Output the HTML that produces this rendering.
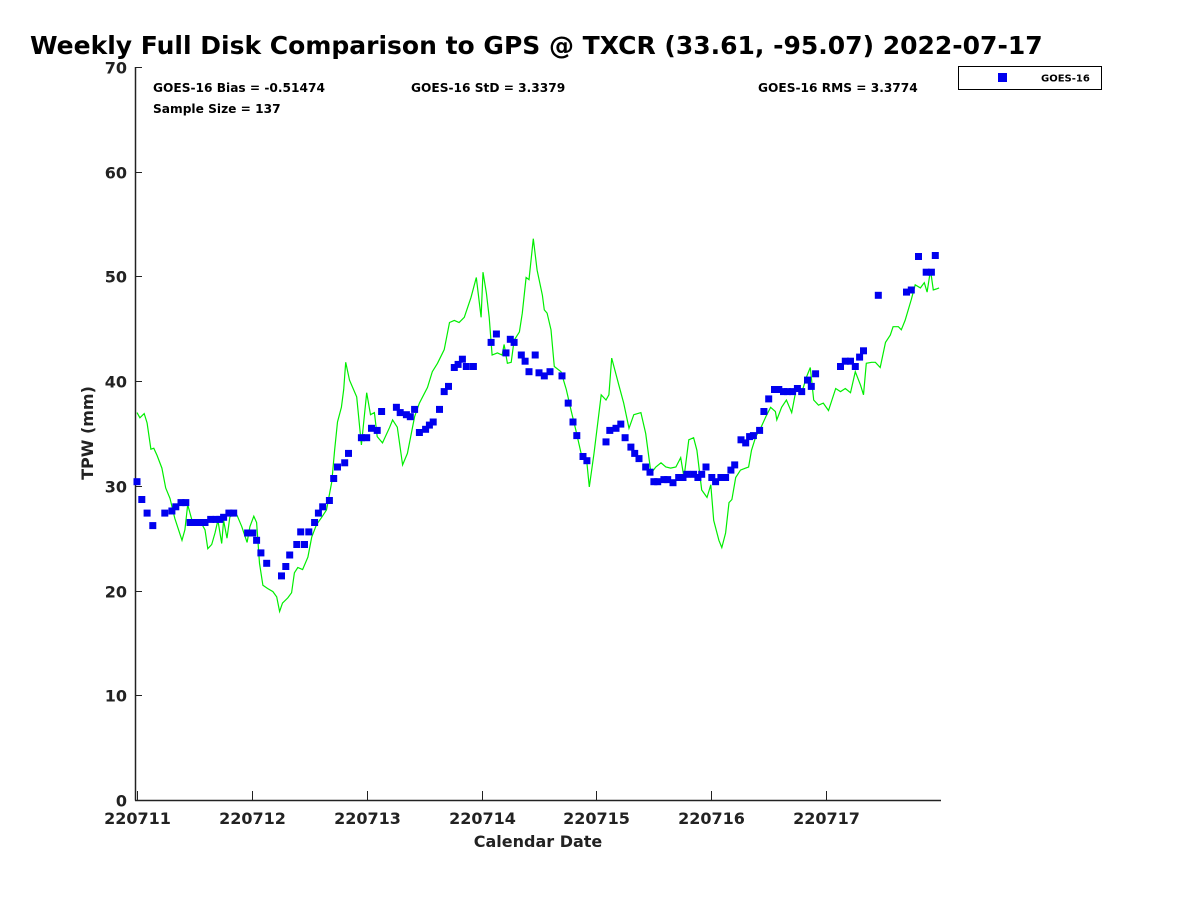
<!DOCTYPE html>
<html><head><meta charset="utf-8"><style>
body{margin:0;background:#fff;}
svg{display:block;font-family:"DejaVu Sans","Liberation Sans",sans-serif;font-weight:bold;}
</style></head><body>
<svg id="chart" width="1200" height="900" viewBox="0 0 1200 900">
<rect x="0" y="0" width="1200" height="900" fill="#fff"/>
<text x="30" y="54" font-size="25" fill="#000">Weekly Full Disk Comparison to GPS @ TXCR (33.61, -95.07) 2022-07-17</text>
<text x="153" y="92" font-size="12.2" fill="#000">GOES-16 Bias = -0.51474</text>
<text x="153" y="113" font-size="12.2" fill="#000">Sample Size = 137</text>
<text x="411" y="92" font-size="12.2" fill="#000">GOES-16 StD = 3.3379</text>
<text x="758" y="92" font-size="12.2" fill="#000">GOES-16 RMS = 3.3774</text>
<g>
<rect x="958.5" y="66.5" width="143" height="23" fill="#fff" stroke="#000" stroke-width="1"/>
<rect x="998" y="73" width="9" height="9" fill="#0000ee"/>
<text x="1041" y="81.5" font-size="10" fill="#000">GOES-16</text>
</g>
<g id="axes"></g>
<g id="series"></g>
<text x="0" y="0" transform="translate(93,433) rotate(-90)" text-anchor="middle" font-size="16" fill="#222">TPW (mm)</text>
<text x="538" y="847" text-anchor="middle" font-size="16" fill="#222">Calendar Date</text>
</svg>
<script>
const yTicks = [0,10,20,30,40,50,60,70];
const xTickLabels = ["220711","220712","220713","220714","220715","220716","220717"];
const xTickHours = [0,24,48,72,96,120,144];
const gpsHours = [0,0.6,1.5,2.1,2.9,3.5,4.2,5.2,6.0,6.9,7.9,9.4,10.0,10.6,11.5,12.5,13.6,14.2,14.8,15.6,16.3,16.9,17.7,18.1,18.8,19.4,20.0,20.9,21.9,23.0,23.6,24.4,25.0,25.6,26.3,27.3,28.4,29.2,29.8,30.4,31.5,32.3,32.9,33.6,34.6,35.7,36.5,37.5,38.6,39.6,40.7,41.3,41.9,42.7,43.2,43.6,44.4,45.9,46.9,48.0,48.8,49.6,50.2,51.3,52.8,53.4,54.4,55.5,56.5,58.0,59.0,60.7,61.7,62.8,64.2,65.3,66.3,67.3,68.4,69.8,70.9,71.9,72.3,73.0,73.6,74.2,75.3,76.3,76.7,77.4,78.2,78.8,79.9,80.5,81.3,81.9,82.8,83.6,84.7,85.1,85.7,86.5,87.2,88.6,89.7,90.7,91.7,92.8,94.0,94.5,95.5,97.0,98.0,98.6,99.2,100.7,101.7,102.8,103.8,105.3,106.3,107.4,108.4,109.5,110.5,111.5,112.6,113.6,114.3,115.3,116.3,117.0,118.0,119.1,119.9,120.5,121.6,122.2,123.0,123.7,124.3,125.1,126.1,127.2,127.8,128.4,129.3,130.3,131.4,132.4,133.4,133.7,134.7,135.7,136.8,137.8,138.9,139.9,140.7,141.4,142.4,143.4,144.5,146.0,147.0,148.0,149.1,150.1,151.2,151.8,152.4,153.5,154.3,155.3,156.4,157.4,158.0,159.1,159.7,160.5,161.8,162.6,163.7,164.5,165.1,165.8,166.4,167.0,167.6];
const gpsTpw = [37.0,36.5,36.9,36.0,33.5,33.6,32.9,31.7,29.8,28.8,26.9,24.8,25.8,28.2,26.7,26.4,26.3,25.8,24.0,24.4,25.5,26.7,24.5,26.7,25.0,27.0,27.5,27.2,26.1,24.6,26.1,27.1,26.5,22.6,20.5,20.2,19.9,19.4,18.0,18.8,19.3,19.8,21.7,22.2,22.0,23.2,25.1,26.3,27.0,27.7,30.4,33.4,36.1,37.5,39.2,41.8,40.1,38.5,33.9,38.9,36.8,37.0,34.7,34.1,35.6,36.3,35.6,32.0,33.1,36.6,37.9,39.4,40.9,41.7,43.0,45.6,45.8,45.6,46.1,48.0,49.9,46.1,50.4,48.4,46.1,42.5,42.7,42.5,43.5,41.7,41.8,43.9,44.7,46.5,49.9,49.7,53.6,50.6,48.2,46.8,46.5,44.9,41.4,40.9,39.2,37.2,35.3,33.1,32.2,29.9,33.1,38.7,38.2,38.7,42.2,39.6,37.9,35.5,36.8,37.0,35.0,31.2,31.8,32.2,31.8,31.7,31.8,32.7,30.8,34.4,34.6,33.4,29.6,28.9,30.1,26.7,24.8,24.1,25.5,28.4,28.7,30.8,31.5,31.7,31.8,33.4,34.7,35.5,36.6,37.5,37.1,36.3,37.5,38.2,37.0,39.4,38.9,40.4,41.3,38.2,37.7,37.9,37.2,39.3,39.0,39.3,38.9,40.9,39.6,38.7,41.7,41.8,41.8,41.3,43.7,44.4,45.2,45.2,44.9,45.8,47.8,49.2,48.9,49.4,48.5,50.6,48.7,48.8,48.9];
const goesHours = [0,1.0,2.1,3.3,5.8,7.3,8.1,9.2,10.2,11.1,12.1,13.1,14.2,15.4,16.5,17.3,18.1,19.2,20.2,23.1,24.2,25.0,25.9,27.1,30.2,31.1,31.9,33.4,34.2,35.0,35.9,37.1,37.9,38.8,40.2,41.1,41.9,43.4,44.2,46.9,48.0,49.0,50.2,51.1,54.2,55.0,56.3,57.1,58.0,59.0,60.3,61.1,61.9,63.2,64.2,65.1,66.3,67.1,68.0,68.8,70.3,74.0,75.1,77.1,78.0,78.8,80.3,81.1,81.9,83.2,84.0,85.1,86.3,88.8,90.1,91.1,91.9,93.2,94.0,98.0,98.8,100.1,101.1,102.0,103.2,104.0,104.9,106.3,107.2,108.0,108.8,110.1,110.9,112.0,113.2,114.1,114.9,116.3,117.2,118.0,118.9,120.1,120.9,122.0,123.0,124.1,124.9,126.2,127.2,128.0,128.8,130.1,131.0,132.0,133.2,134.1,135.1,135.9,137.0,138.0,138.9,140.1,140.9,141.8,147.0,148.0,149.1,150.1,151.0,151.8,154.9,160.8,161.8,163.3,164.9,166.0,166.8];
const goesTpw = [30.4,28.7,27.4,26.2,27.4,27.6,28.0,28.4,28.4,26.5,26.5,26.5,26.5,26.8,26.8,26.8,27.0,27.4,27.4,25.5,25.5,24.8,23.6,22.6,21.4,22.3,23.4,24.4,25.6,24.4,25.6,26.5,27.4,28.0,28.6,30.7,31.8,32.2,33.1,34.6,34.6,35.5,35.3,37.1,37.5,37.0,36.8,36.6,37.3,35.1,35.4,35.8,36.1,37.3,39.0,39.5,41.3,41.6,42.1,41.4,41.4,43.7,44.5,42.7,44.0,43.7,42.5,41.9,40.9,42.5,40.8,40.5,40.9,40.5,37.9,36.1,34.8,32.8,32.4,34.2,35.3,35.5,35.9,34.6,33.7,33.1,32.6,31.8,31.3,30.4,30.4,30.6,30.6,30.3,30.8,30.8,31.1,31.1,30.8,31.1,31.8,30.8,30.4,30.8,30.8,31.5,32.0,34.4,34.1,34.7,34.8,35.3,37.1,38.3,39.2,39.2,39.0,39.0,39.0,39.3,39.0,40.1,39.5,40.7,41.4,41.9,41.9,41.4,42.3,42.9,48.2,48.5,48.7,51.9,50.4,50.4,52.0];

const NS = "http://www.w3.org/2000/svg";
const X0 = 137, X1 = 941, Y0 = 800, Y1 = 67;
const xs = h => X0 + (X1 - X0) * h / 168;
const ys = v => Y0 - (Y0 - Y1) * v / 70;
function mk(tag, attrs, parent) {
  const e = document.createElementNS(NS, tag);
  for (const k in attrs) e.setAttribute(k, attrs[k]);
  parent.appendChild(e);
  return e;
}
const axes = document.getElementById("axes");
const series = document.getElementById("series");

const yAxis = mk("line", {x1:135.5, y1:Y1, x2:135.5, y2:Y0+0.5, stroke:"#222", "stroke-width":1.5}, axes);


const xAxis = mk("line", {x1:135, y1:Y0+0.5, x2:X1, y2:Y0+0.5, stroke:"#222", "stroke-width":1.5}, axes);



yTicks.forEach(v => {
  const y = Math.round(ys(v)) + 0.5;
  const t = mk("line", {x1:135.5, y1:y, x2:142, y2:y, stroke:"#222", "stroke-width":1}, axes);
  
  
  const l = mk("text", {x:127, y:y+6, "text-anchor":"end", "font-size":16, fill:"#222"}, axes);
  l.textContent = String(v);
  
  
});
xTickHours.forEach((h, i) => {
  const x = Math.round(xs(h)) + 0.5;
  const t = mk("line", {x1:x, y1:Y0, x2:x, y2:Y0-9, stroke:"#222", "stroke-width":1}, axes);
  
  
  const l = mk("text", {x:x, y:824, "text-anchor":"middle", "font-size":16, fill:"#222"}, axes);
  l.textContent = xTickLabels[i];
  
  
});

const pts = gpsHours.map((h, i) => xs(h).toFixed(1) + "," + ys(gpsTpw[i]).toFixed(1)).join(" ");
const line = mk("polyline", {points:pts, fill:"none", stroke:"#00ee00", "stroke-width":1.2}, series);



goesHours.forEach((h, i) => {
  const r = mk("rect", {x:(xs(h)-3.5).toFixed(1), y:(ys(goesTpw[i])-3.5).toFixed(1), width:7, height:7, fill:"#0000ee"}, series);
  
  
});
</script>
</body></html>
